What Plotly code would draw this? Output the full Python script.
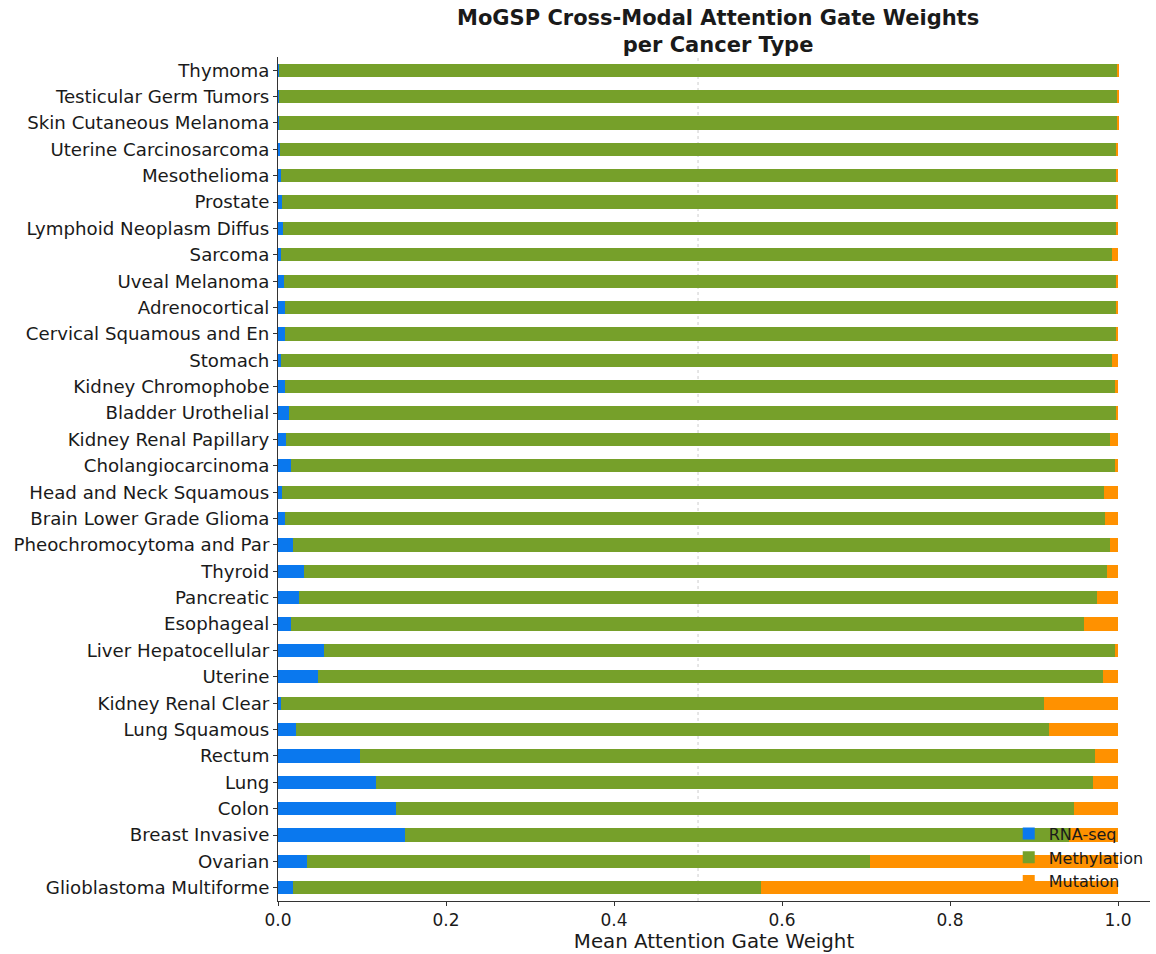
import plotly.graph_objects as go

# Cancer types, listed top to bottom
cancer_types = [
    "Thymoma", "Testicular Germ Tumors", "Skin Cutaneous Melanoma",
    "Uterine Carcinosarcoma", "Mesothelioma", "Prostate",
    "Lymphoid Neoplasm Diffus", "Sarcoma", "Uveal Melanoma", "Adrenocortical",
    "Cervical Squamous and En", "Stomach", "Kidney Chromophobe",
    "Bladder Urothelial", "Kidney Renal Papillary", "Cholangiocarcinoma",
    "Head and Neck Squamous", "Brain Lower Grade Glioma",
    "Pheochromocytoma and Par", "Thyroid", "Pancreatic", "Esophageal",
    "Liver Hepatocellular", "Uterine", "Kidney Renal Clear", "Lung Squamous",
    "Rectum", "Lung", "Colon", "Breast Invasive", "Ovarian",
    "Glioblastoma Multiforme",
]

# Mean gate weight per modality
rna_seq = [
    0.001, 0.001, 0.001, 0.002, 0.003, 0.005, 0.006, 0.003, 0.007, 0.008,
    0.008, 0.004, 0.008, 0.013, 0.010, 0.015, 0.005, 0.008, 0.018, 0.031,
    0.025, 0.015, 0.055, 0.048, 0.004, 0.021, 0.098, 0.117, 0.141, 0.151,
    0.034, 0.018,
]
methylation = [
    0.998, 0.998, 0.998, 0.995, 0.995, 0.993, 0.992, 0.990, 0.991, 0.990,
    0.990, 0.989, 0.988, 0.985, 0.980, 0.981, 0.978, 0.977, 0.972, 0.956,
    0.950, 0.945, 0.941, 0.934, 0.908, 0.897, 0.874, 0.853, 0.807, 0.791,
    0.671, 0.557,
]
mutation = [
    0.001, 0.001, 0.001, 0.003, 0.002, 0.002, 0.002, 0.007, 0.002, 0.002,
    0.002, 0.007, 0.004, 0.002, 0.010, 0.004, 0.017, 0.015, 0.010, 0.013,
    0.025, 0.040, 0.004, 0.018, 0.088, 0.082, 0.028, 0.030, 0.052, 0.058,
    0.295, 0.425,
]

x_ticks = [0.0, 0.2, 0.4, 0.6, 0.8, 1.0]
x_tick_labels = ["0.0", "0.2", "0.4", "0.6", "0.8", "1.0"]

FONT = "DejaVu Sans"
TEXT = "#1a1a1a"

series = [
    ("RNA-seq", rna_seq, "#0a78ee"),
    ("Methylation", methylation, "#76a02a"),
    ("Mutation", mutation, "#ff9100"),
]

fig = go.Figure()
for name, vals, color in series:
    fig.add_trace(go.Bar(
        y=cancer_types, x=vals, name=name, orientation="h",
        marker=dict(color=color, line=dict(width=0)),
        width=0.5,
    ))

# reference line at equal weighting
fig.add_shape(type="line", xref="x", yref="paper", x0=0.5, x1=0.5, y0=0, y1=1,
              line=dict(color="#cccccc", width=1, dash="dot"), layer="below")

# two-line bold title above the axes
fig.add_annotation(
    text="<b>MoGSP Cross-Modal Attention Gate Weights<br>per Cancer Type</b>",
    xref="paper", yref="paper", x=0.505, y=1.063,
    xanchor="center", yanchor="top", showarrow=False,
    font=dict(family=FONT, size=21, color=TEXT),
)

fig.update_layout(
    barmode="stack",
    width=1156, height=954,
    margin=dict(l=278, r=6, t=57, b=53),
    paper_bgcolor="white", plot_bgcolor="white",
    font=dict(family=FONT, color=TEXT, size=18),
    xaxis=dict(
        range=[0, 1.038], tickvals=x_ticks, ticktext=x_tick_labels,
        showgrid=False, zeroline=False,
        showline=True, linecolor="#333333", linewidth=1,
        ticks="outside", ticklen=4, tickcolor="#333333",
        tickfont=dict(size=17, color=TEXT),
        title=dict(text="Mean Attention Gate Weight", font=dict(size=19.8, color=TEXT),
                   standoff=4),
    ),
    yaxis=dict(
        categoryorder="array", categoryarray=cancer_types,
        range=[len(cancer_types) - 0.5, -0.5],
        showgrid=False, zeroline=False,
        showline=True, linecolor="#333333", linewidth=1,
        ticks="outside", ticklen=4, tickcolor="#333333",
        tickfont=dict(size=18.2, color=TEXT),
    ),
    legend=dict(
        x=0.838, xanchor="left", y=0.1, yanchor="top",
        bgcolor="rgba(0,0,0,0)", borderwidth=0,
        font=dict(size=16, color=TEXT),
        itemwidth=30, tracegroupgap=0,
        traceorder="normal",
    ),
    bargap=0.5,
)

fig.write_html("out.html")
